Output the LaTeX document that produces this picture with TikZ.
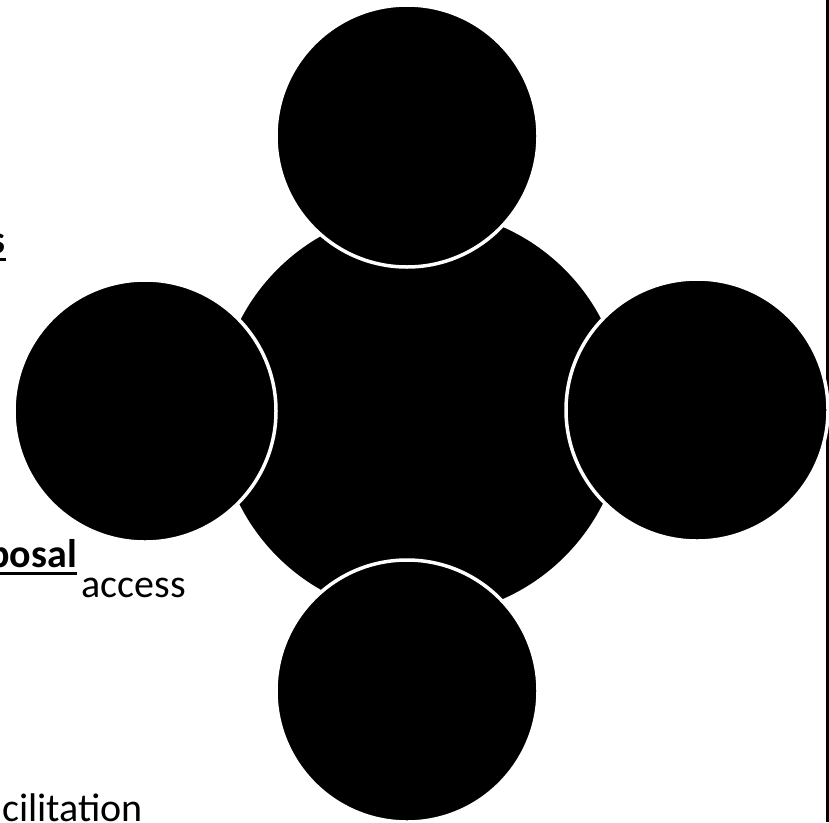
\documentclass[tikz,border=0pt]{standalone}
\usepackage{fontspec}
\setmainfont{Carlito}
% underline that sits at a fixed depth and crosses descenders
\newcommand{\wordul}[1]{{\setbox0\hbox{#1}\rlap{\rule[-0.2em]{\wd0}{0.07em}}\box0}}
\begin{document}
\begin{tikzpicture}[x=1pt,y=-1pt,
  hub/.style={circle,fill=black,draw=white,line width=3.5pt,inner sep=0pt,minimum size=410pt},
  petal/.style={circle,fill=black,draw=white,line width=3.5pt,inner sep=0pt,minimum size=262pt},
  frag/.style={inner sep=0pt,font=\fontsize{40}{48}\selectfont}]
\path[use as bounding box] (0,0) rectangle (829,822);
\clip (0,0) rectangle (829,822);

% right frame edge
\coordinate (ftop) at (827.5,0);
\coordinate (fbot) at (827.5,822);
\draw[line width=3pt] (ftop) -- (fbot);

% central circle and the four surrounding circles
\node[hub] (hub) at (421,413) {};
\node[petal] (north) at (407,136) {};
\node[petal] (west) at (145,411) {};
\node[petal] (east) at (697,410) {};
\node[petal] (south) at (407,691) {};

% text fragments at the left edge
\node[frag,anchor=base east] (t1) at (6,253) {\wordul{\textbf{s}}};
\node[frag,anchor=base east] (t2) at (77,567) {\wordul{\textbf{posal}}};
\node[frag,anchor=base east] (t3) at (186,597) {access};
\node[frag,anchor=base east] (t4) at (143,821) {cilitation};
\end{tikzpicture}
\end{document}
